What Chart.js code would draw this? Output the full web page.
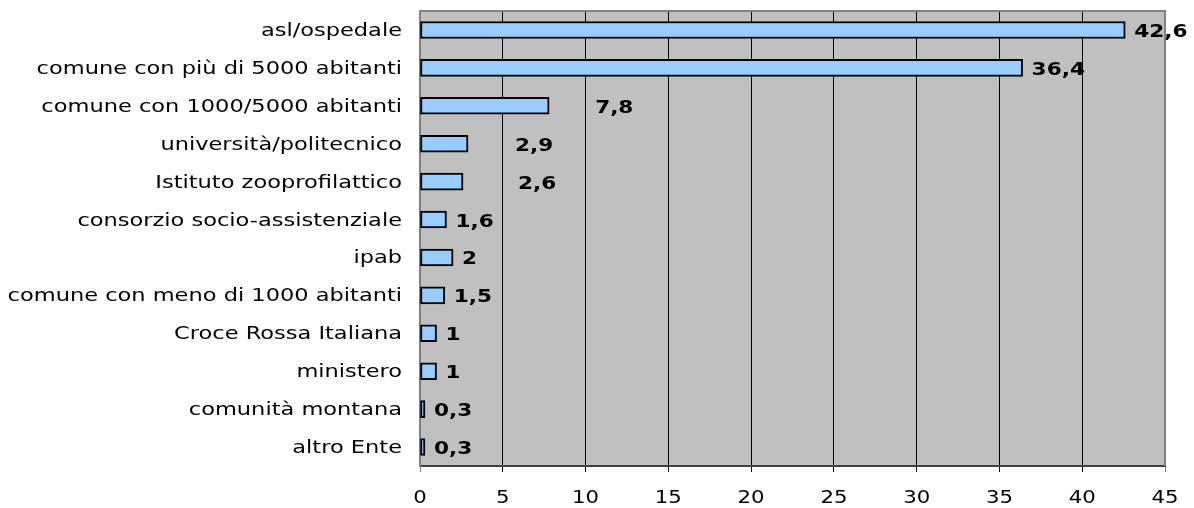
<!DOCTYPE html>
<html>
<head>
<meta charset="utf-8">
<script src="https://cdn.jsdelivr.net/npm/chart.js@4/dist/chart.umd.min.js"></script>
<style>
    html, body { margin: 0; padding: 0; background: #fff; }
    #wrap { width: 1194px; height: 508px; }
</style>
</head>
<body>
<div id="wrap"><canvas id="enteChart" width="1194" height="508"></canvas></div>
<script>
const categories = [
    'asl/ospedale',
    'comune con più di 5000 abitanti',
    'comune con 1000/5000 abitanti',
    'università/politecnico',
    'Istituto zooprofilattico',
    'consorzio socio-assistenziale',
    'ipab',
    'comune con meno di 1000 abitanti',
    'Croce Rossa Italiana',
    'ministero',
    'comunità montana',
    'altro Ente'
];
const values = [42.6, 36.4, 7.8, 2.9, 2.6, 1.6, 2, 1.5, 1, 1, 0.3, 0.3];
const xTicks = [0, 5, 10, 15, 20, 25, 30, 35, 40, 45];
// extra push (px) of some value labels, as placed in the original
const labelNudge = [0, 0, 37, 38, 46, 0, 0, 0, 0, 0, 0, 0];

const FONT = '"DejaVu Sans", Verdana, sans-serif';

// the original text is wide (stretched Verdana), so draw it scaled horizontally
function wideText(ctx, text, x, y, align, font, sx) {
    ctx.save();
    ctx.font = font;
    ctx.fillStyle = '#000';
    ctx.textAlign = align;
    ctx.textBaseline = 'alphabetic';
    ctx.translate(x, y);
    ctx.scale(sx, 1);
    ctx.fillText(text, 0, 0);
    ctx.restore();
}

// Plot background, outer frame and axis labels
const plotFrame = {
    id: 'plotFrame',
    beforeDraw(chart) {
        const { ctx, chartArea: a } = chart;
        ctx.save();
        ctx.fillStyle = '#C0C0C0';
        ctx.fillRect(a.left, a.top, a.right - a.left, a.bottom - a.top);
        ctx.restore();
    },
    afterDraw(chart) {
        const { ctx, chartArea: a } = chart;
        ctx.save();
        ctx.strokeStyle = '#808080';
        ctx.lineWidth = 2;
        ctx.beginPath();
        ctx.moveTo(a.left, a.top);
        ctx.lineTo(a.right, a.top);
        ctx.lineTo(a.right, a.bottom);
        ctx.stroke();
        ctx.restore();

        const yScale = chart.scales.y;
        const xScale = chart.scales.x;
        categories.forEach((c, i) => {
            wideText(ctx, c, a.left - 18, yScale.getPixelForTick(i) + 6, 'right', '18px ' + FONT, 1.25);
        });
        xTicks.forEach(v => {
            wideText(ctx, String(v), xScale.getPixelForValue(v), a.bottom + 37, 'center', '18px ' + FONT, 1.18);
        });
    }
};

// Value labels next to the bars
const valueLabels = {
    id: 'valueLabels',
    afterDatasetsDraw(chart) {
        const meta = chart.getDatasetMeta(0);
        meta.data.forEach((bar, i) => {
            const txt = String(values[i]).replace('.', ',');
            wideText(chart.ctx, txt, bar.x + 9 + labelNudge[i], bar.y + 7, 'left', 'bold 18px ' + FONT, 1.2);
        });
    }
};

new Chart(document.getElementById('enteChart'), {
    type: 'bar',
    data: {
        labels: categories,
        datasets: [{
            data: values,
            backgroundColor: '#99CCFF',
            borderColor: '#000000',
            borderWidth: 2,
            borderSkipped: false,
            barThickness: 17
        }]
    },
    options: {
        indexAxis: 'y',
        responsive: false,
        animation: false,
        layout: { padding: { top: 11, right: 29, left: 0, bottom: 0 } },
        plugins: {
            legend: { display: false },
            tooltip: { enabled: false }
        },
        scales: {
            x: {
                min: 0,
                max: 45,
                afterBuildTicks(scale) {
                    scale.ticks = xTicks.map(v => ({ value: v }));
                },
                afterFit(scale) { scale.height = 42; },
                grid: {
                    color: c => (c.tick && (c.tick.value === 0 || c.tick.value === 45)) ? '#808080' : '#000000',
                    lineWidth: 1,
                    tickLength: 6,
                    drawTicks: true
                },
                border: { color: '#404040', width: 2 },
                ticks: { display: false }
            },
            y: {
                afterFit(scale) { scale.width = 420; },
                grid: { display: false, drawTicks: false },
                border: { color: '#808080', width: 2 },
                ticks: { display: false }
            }
        }
    },
    plugins: [plotFrame, valueLabels]
});
</script>
</body>
</html>
